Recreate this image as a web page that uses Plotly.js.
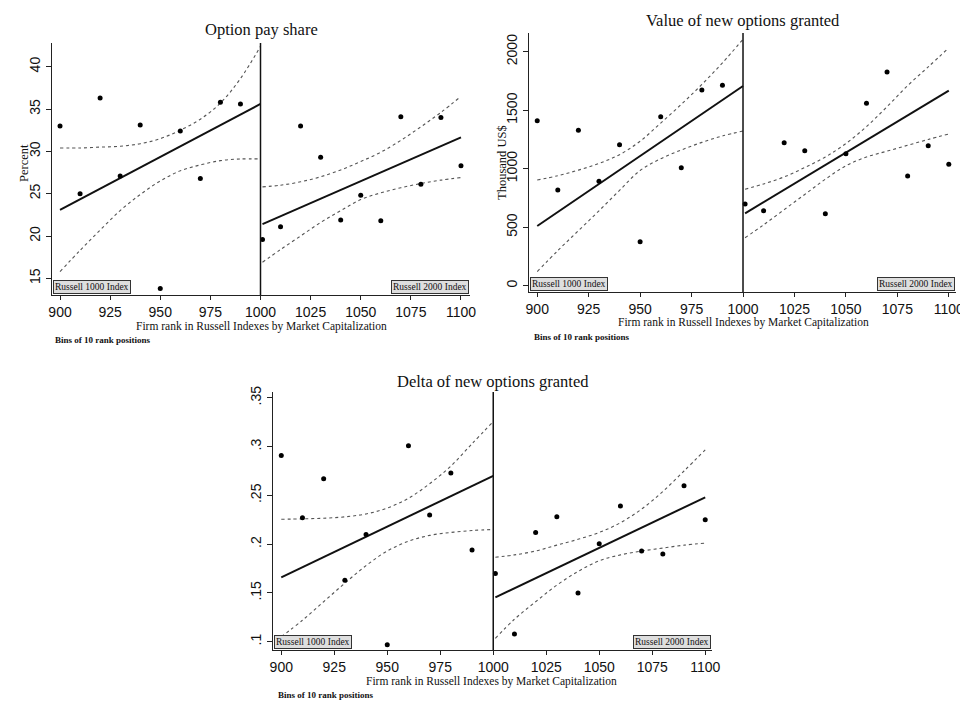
<!DOCTYPE html>
<html>
<head>
<meta charset="utf-8">
<script src="https://cdn.plot.ly/plotly-3.0.1.min.js"></script>
<style>html,body{margin:0;padding:0;background:#fff;}#chart{width:960px;height:709px;}</style>
</head>
<body>
<div id="chart"></div>
<script>
// ---------- data ----------
const xTicks = [900, 925, 950, 975, 1000, 1025, 1050, 1075, 1100];
const binsLeft = [900, 910, 920, 930, 940, 950, 960, 970, 980, 990];
const binsRight = [1001, 1010, 1020, 1030, 1040, 1050, 1060, 1070, 1080, 1090, 1100];
const ciXLeft = [900, 910, 920, 930, 940, 950, 960, 970, 980, 990, 1000];
const ciXRight = [1001, 1010, 1020, 1030, 1040, 1050, 1060, 1070, 1080, 1090, 1100];
const fitXLeft = [900, 1000];
const fitXRight = [1001, 1100];

// Panel 1: Option pay share (Percent)
const payLeft = [33.0, 25.0, 36.3, 27.1, 33.1, 13.8, 32.4, 26.8, 35.8, 35.6];
const payRight = [19.6, 21.1, 33.0, 29.3, 21.9, 24.8, 21.8, 34.1, 26.1, 34.0, 28.3];
const payFitLeft = [23.1, 35.6];
const payFitRight = [21.4, 31.65];
const payUpLeft = [30.4, 30.4, 30.5, 30.6, 30.9, 31.5, 32.5, 33.8, 35.7, 38.6, 42.4];
const payLoLeft = [15.8, 18.3, 20.7, 23.0, 24.9, 26.5, 27.7, 28.4, 28.9, 29.1, 29.1];
const payUpRight = [25.8, 26.0, 26.4, 27.0, 27.8, 28.8, 29.9, 31.3, 32.9, 34.6, 36.5];
const payLoRight = [16.9, 18.4, 20.0, 21.6, 23.0, 24.3, 25.1, 25.7, 26.2, 26.6, 26.9];

// Panel 2: Value of new options granted (Thousand US$)
const valLeft = [1410, 818, 1328, 892, 1205, 376, 1444, 1008, 1673, 1713];
const valRight = [698, 641, 1222, 1154, 615, 1128, 1559, 1826, 938, 1197, 1038];
const valFitLeft = [510, 1707];
const valFitRight = [619, 1667];
const valUpLeft = [903, 940, 988, 1045, 1120, 1235, 1390, 1550, 1720, 1905, 2106];
const valLoLeft = [120, 300, 470, 640, 815, 985, 1085, 1160, 1225, 1280, 1322];
const valUpRight = [824, 870, 930, 1010, 1100, 1215, 1360, 1530, 1710, 1870, 2034];
const valLoRight = [410, 520, 650, 780, 910, 1025, 1100, 1150, 1200, 1250, 1297];

// Panel 3: Delta of new options granted
const delLeft = [0.291, 0.227, 0.267, 0.163, 0.210, 0.097, 0.301, 0.230, 0.273, 0.194];
const delRight = [0.170, 0.108, 0.212, 0.228, 0.150, 0.2005, 0.239, 0.193, 0.190, 0.260, 0.225];
const delFitLeft = [0.166, 0.270];
const delFitRight = [0.1455, 0.248];
const delUpLeft = [0.2255, 0.226, 0.2266, 0.228, 0.231, 0.237, 0.247, 0.262, 0.280, 0.303, 0.3256];
const delLoLeft = [0.105, 0.122, 0.141, 0.160, 0.178, 0.193, 0.203, 0.209, 0.212, 0.214, 0.215];
const delUpRight = [0.1866, 0.189, 0.193, 0.199, 0.205, 0.212, 0.222, 0.236, 0.254, 0.275, 0.2966];
const delLoRight = [0.1035, 0.123, 0.141, 0.158, 0.172, 0.183, 0.189, 0.193, 0.196, 0.199, 0.201];

const payYTicks = [15, 20, 25, 30, 35, 40];
const valYTicks = [0, 500, 1000, 1500, 2000];
const delYTicks = [0.1, 0.15, 0.2, 0.25, 0.3, 0.35];
const delYText = ['.1', '.15', '.2', '.25', '.3', '.35'];

const titles = ['Option pay share', 'Value of new options granted', 'Delta of new options granted'];
const xTitle = 'Firm rank in Russell Indexes by Market Capitalization';
const note = 'Bins of 10 rank positions';
const boxLeft = 'Russell 1000 Index';
const boxRight = 'Russell 2000 Index';

// ---------- build ----------
const W = 960, H = 709;
const serif = 'Liberation Serif, Times New Roman, serif';
const sans = 'Liberation Sans, Arial, sans-serif';

function panelTraces(xa, ya, ptsL, ptsR, fitL, fitR, upL, loL, upR, loR) {
  const ci = {color: '#555', width: 1.1, dash: '3px,3px'};
  const fit = {color: '#111', width: 2};
  const mk = {color: '#000', size: 5};
  const base = {xaxis: xa, yaxis: ya, hoverinfo: 'skip'};
  return [
    Object.assign({type: 'scatter', mode: 'lines', x: ciXLeft, y: upL, line: Object.assign({shape: 'spline'}, ci)}, base),
    Object.assign({type: 'scatter', mode: 'lines', x: ciXLeft, y: loL, line: Object.assign({shape: 'spline'}, ci)}, base),
    Object.assign({type: 'scatter', mode: 'lines', x: ciXRight, y: upR, line: Object.assign({shape: 'spline'}, ci)}, base),
    Object.assign({type: 'scatter', mode: 'lines', x: ciXRight, y: loR, line: Object.assign({shape: 'spline'}, ci)}, base),
    Object.assign({type: 'scatter', mode: 'lines', x: fitXLeft, y: fitL, line: fit}, base),
    Object.assign({type: 'scatter', mode: 'lines', x: fitXRight, y: fitR, line: fit}, base),
    Object.assign({type: 'scatter', mode: 'markers', x: binsLeft, y: ptsL, marker: mk}, base),
    Object.assign({type: 'scatter', mode: 'markers', x: binsRight, y: ptsR, marker: mk}, base)
  ];
}

const data = [].concat(
  panelTraces('x', 'y', payLeft, payRight, payFitLeft, payFitRight, payUpLeft, payLoLeft, payUpRight, payLoRight),
  panelTraces('x2', 'y2', valLeft, valRight, valFitLeft, valFitRight, valUpLeft, valLoLeft, valUpRight, valLoRight),
  panelTraces('x3', 'y3', delLeft, delRight, delFitLeft, delFitRight, delUpLeft, delLoLeft, delUpRight, delLoRight)
);

function px(x) { return x / W; }
function py(y) { return (H - y) / H; }

function xAxis(l, r, range, anchor) {
  return {
    domain: [px(l), px(r)], range: range, anchor: anchor,
    tickmode: 'array', tickvals: xTicks, ticktext: xTicks.map(String),
    ticks: 'outside', ticklen: 4, tickwidth: 1, tickcolor: '#222',
    ticklabeloverflow: 'allow',
    showline: true, linecolor: '#222', linewidth: 1.2,
    showgrid: false, zeroline: false, fixedrange: true,
    tickfont: {family: sans, size: 14, color: '#111'}
  };
}
function yAxis(top, bot, range, anchor, vals, text) {
  return {
    domain: [py(bot), py(top)], range: range, anchor: anchor,
    tickmode: 'array', tickvals: vals, ticktext: text,
    tickangle: -90,
    ticks: 'outside', ticklen: 5, tickwidth: 1, tickcolor: '#222',
    showline: true, linecolor: '#222', linewidth: 1.2,
    showgrid: false, zeroline: false, fixedrange: true,
    tickfont: {family: sans, size: 14, color: '#111'}
  };
}

const layout = {
  width: W, height: H,
  margin: {l: 0, r: 0, t: 0, b: 0},
  paper_bgcolor: '#ffffff', plot_bgcolor: '#ffffff',
  showlegend: false,
  xaxis: xAxis(52, 470, [896, 1104.5], 'y'),
  yaxis: yAxis(43, 295, [13.03, 42.8], 'x', payYTicks, payYTicks.map(String)),
  xaxis2: xAxis(529, 956, [896, 1103.5], 'y2'),
  yaxis2: yAxis(33, 292, [-54, 2160], 'x2', valYTicks, valYTicks.map(String)),
  xaxis3: xAxis(273, 712, [896.1, 1103.2], 'y3'),
  yaxis3: yAxis(392, 650, [0.0915, 0.356], 'x3', delYTicks, delYText),
  shapes: [
    {type: 'line', xref: 'x', yref: 'y domain', x0: 1000, x1: 1000, y0: 0, y1: 1, line: {color: '#111', width: 1.5}},
    {type: 'line', xref: 'x2', yref: 'y2 domain', x0: 1000, x1: 1000, y0: 0, y1: 1, line: {color: '#111', width: 1.5}},
    {type: 'line', xref: 'x3', yref: 'y3 domain', x0: 1000, x1: 1000, y0: 0, y1: 1, line: {color: '#111', width: 1.5}}
  ],
  annotations: []
};

function ann(text, x, y, opts) {
  return Object.assign({text: text, xref: 'paper', yref: 'paper', x: px(x), y: py(y),
    showarrow: false, xanchor: 'center', yanchor: 'middle',
    font: {family: serif, size: 12, color: '#111'}}, opts || {});
}

const A = layout.annotations;
// titles
A.push(ann(titles[0], 261, 29, {font: {family: serif, size: 16.5, color: '#111'}}));
A.push(ann(titles[1], 743, 21, {font: {family: serif, size: 16.5, color: '#111'}}));
A.push(ann(titles[2], 493, 381, {font: {family: serif, size: 16.5, color: '#111'}}));
// x titles
A.push(ann(xTitle, 261, 327, {font: {family: serif, size: 11.5, color: '#111'}}));
A.push(ann(xTitle, 743, 323, {font: {family: serif, size: 11.5, color: '#111'}}));
A.push(ann(xTitle, 492, 681, {font: {family: serif, size: 11.5, color: '#111'}}));
// notes
A.push(ann('<b>' + note + '</b>', 53, 340, {xanchor: 'left', font: {family: serif, size: 9, color: '#111'}}));
A.push(ann('<b>' + note + '</b>', 532, 337, {xanchor: 'left', font: {family: serif, size: 9, color: '#111'}}));
A.push(ann('<b>' + note + '</b>', 276, 695, {xanchor: 'left', font: {family: serif, size: 9, color: '#111'}}));
// y titles
A.push(ann('Percent', 24, 163, {textangle: -90, font: {family: serif, size: 12.5, color: '#111'}}));
A.push(ann('Thousand US$', 502, 163, {textangle: -90, font: {family: serif, size: 12.5, color: '#111'}}));
// Russell boxes
[['x', 'y'], ['x2', 'y2'], ['x3', 'y3']].forEach(function (p) {
  const boxStyle = {font: {family: serif, size: 9.5, color: '#111'}, bgcolor: '#dedede', bordercolor: '#333', borderwidth: 1, borderpad: 1};
  A.push(Object.assign({text: boxLeft, xref: p[0] + ' domain', yref: p[1] + ' domain', x: 0.003, y: 0.004,
    xanchor: 'left', yanchor: 'bottom', showarrow: false}, boxStyle));
  A.push(Object.assign({text: boxRight, xref: p[0] + ' domain', yref: p[1] + ' domain', x: 0.997, y: 0.004,
    xanchor: 'right', yanchor: 'bottom', showarrow: false}, boxStyle));
});

Plotly.newPlot('chart', data, layout, {displayModeBar: false, staticPlot: true});
</script>
</body>
</html>
